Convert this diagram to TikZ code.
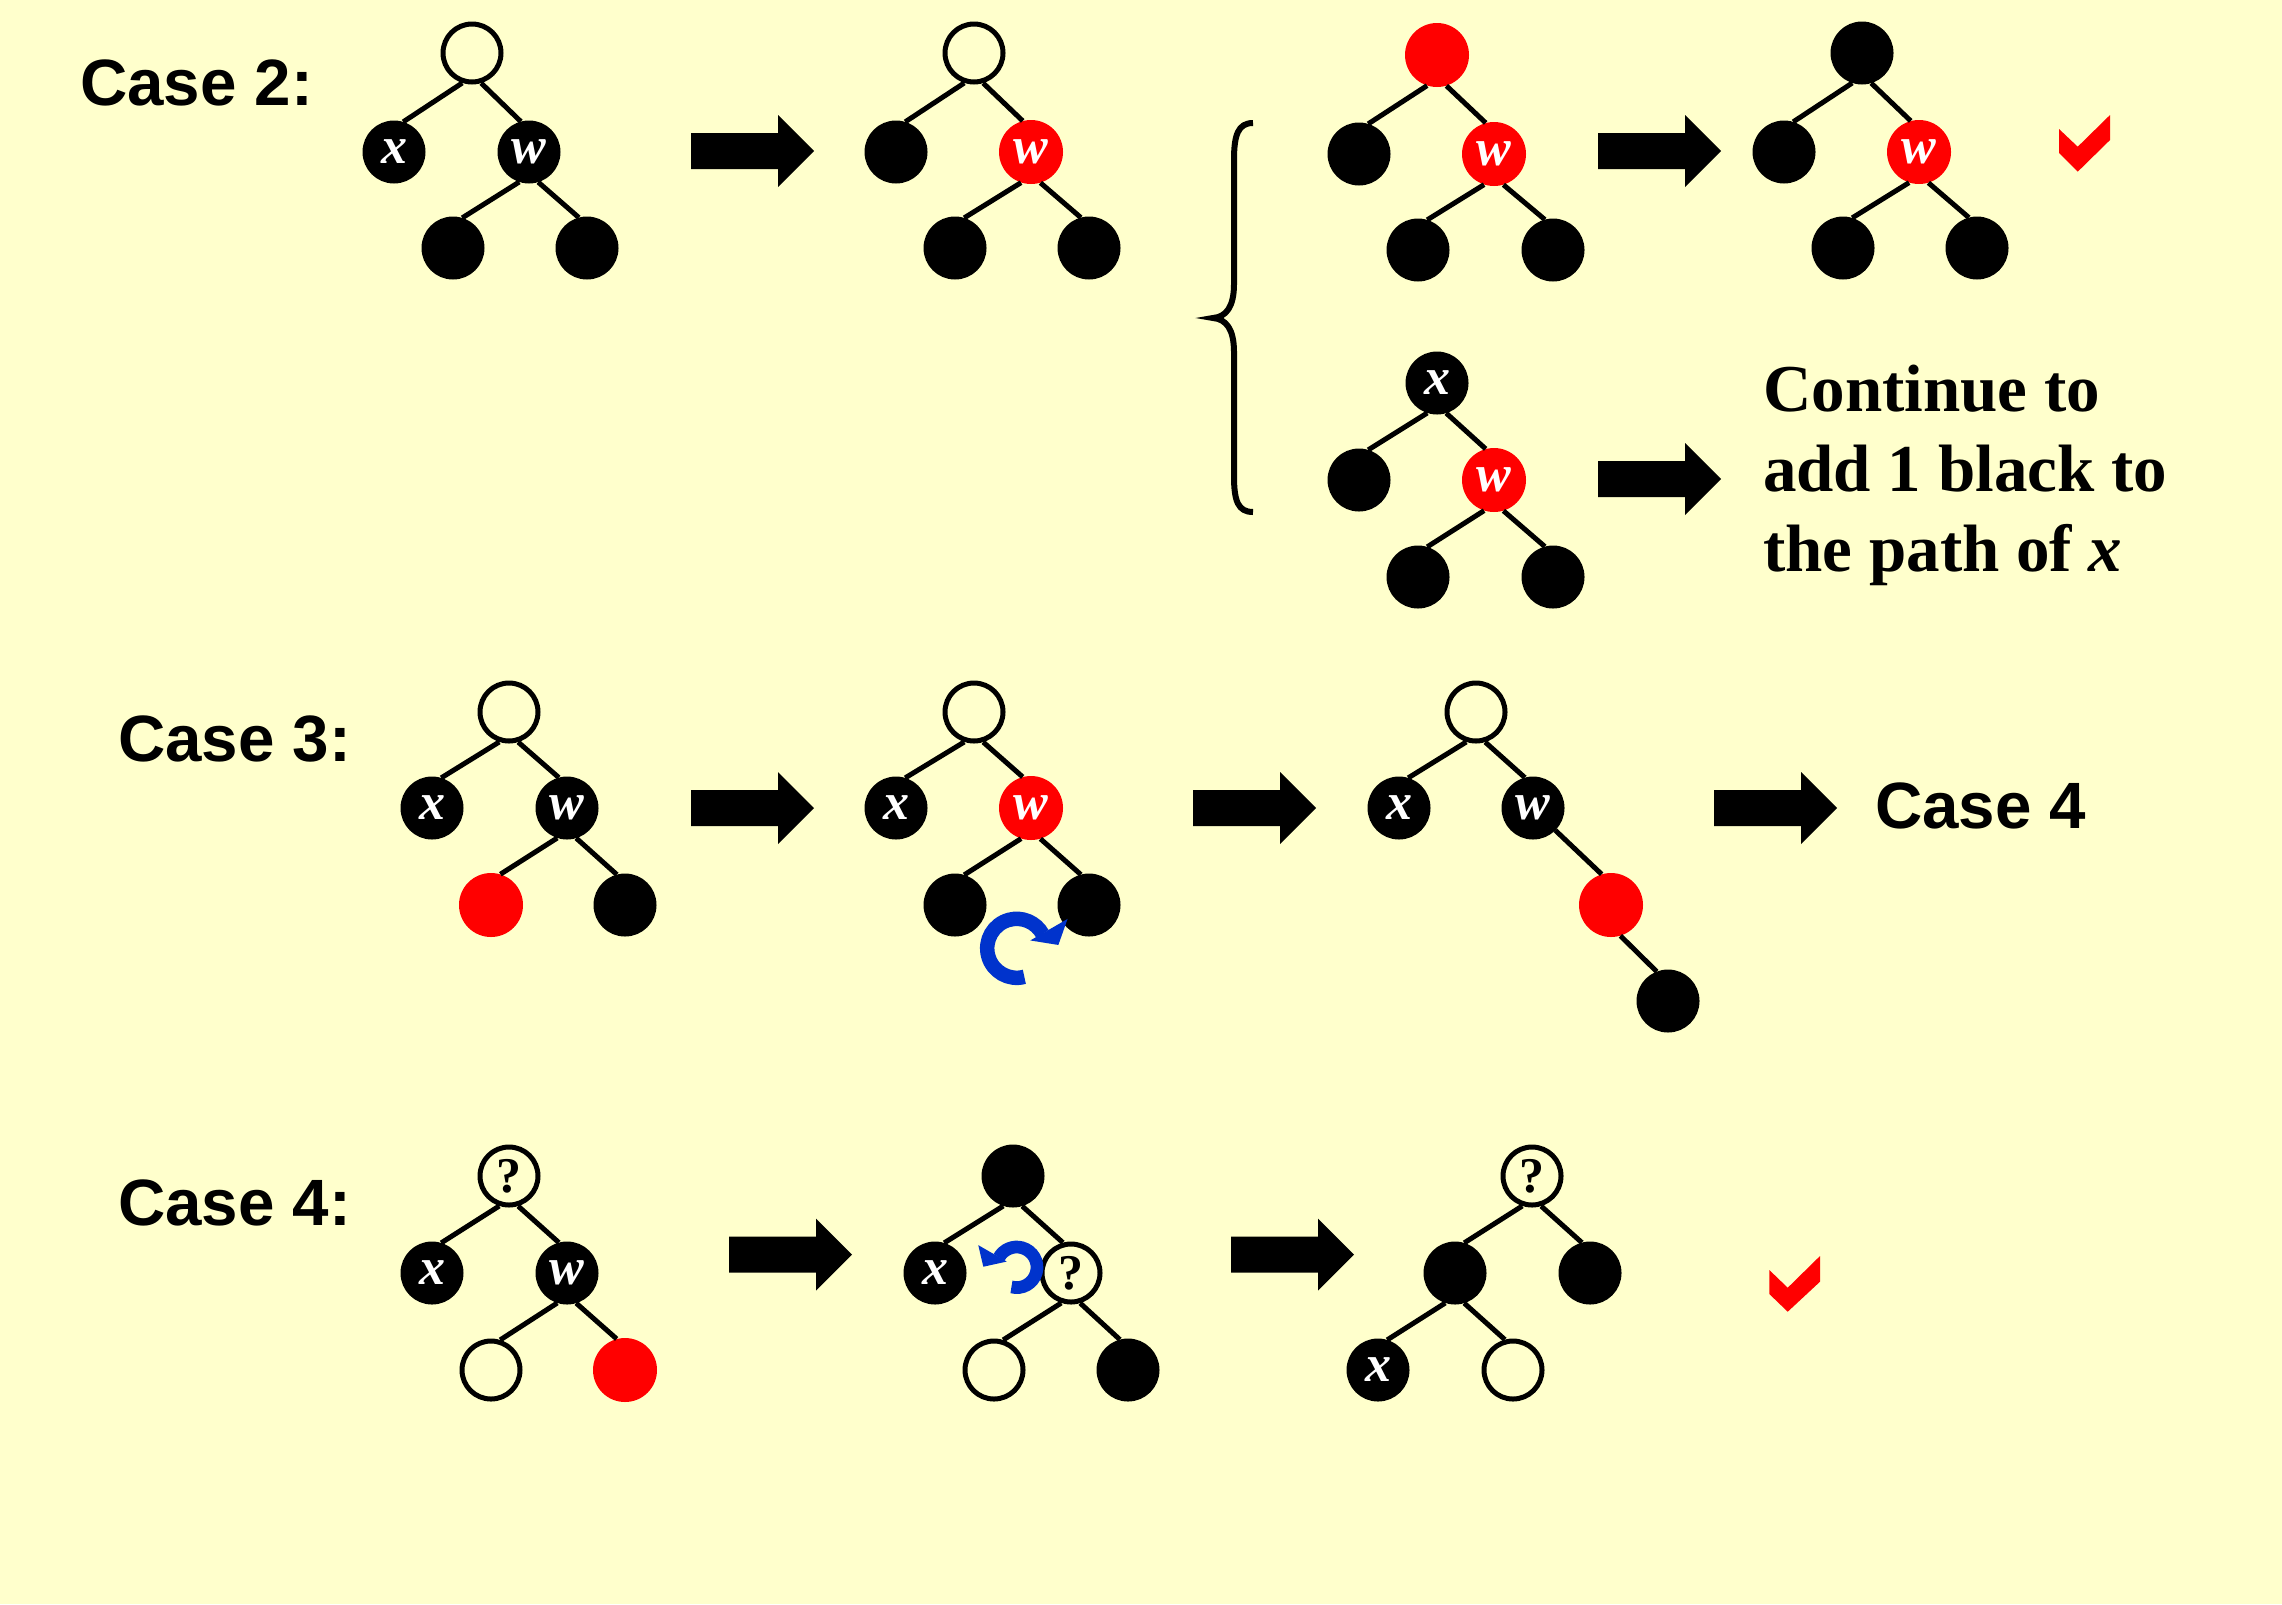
\documentclass[tikz,border=0pt]{standalone}
\usepackage{fontspec}
\setmainfont{Liberation Serif}
\newfontfamily\casefont{Liberation Sans}
\definecolor{bg}{HTML}{FFFFCC}
\definecolor{rotblue}{HTML}{0033CC}
\newcommand\lblfont{\fontsize{52}{52}\selectfont\bfseries\itshape}
\newcommand\qfont{\fontsize{50}{50}\selectfont\bfseries\upshape}
\tikzset{
  nd/.style={circle, minimum size=58pt, inner sep=0pt, line width=5pt, font=\lblfont},
  wn/.style={nd, draw=black, fill=bg},
  bn/.style={nd, draw=black, fill=black, text=white},
  rn/.style={circle, minimum size=64pt, inner sep=0pt, fill=red, text=white, font=\lblfont},
  qn/.style={wn, font=\qfont},
  edge/.style={line width=5pt, black},
  casetxt/.style={font=\casefont\bfseries\fontsize{65.5}{78}\selectfont, anchor=base west, inner sep=0pt},
  bodytxt/.style={font=\bfseries\fontsize{67}{80}\selectfont, anchor=base west, inner sep=0pt},
  blockarrow/.pic={\fill[black] (0,-18) -- (87,-18) -- (87,-36) -- (123,0) -- (87,36) -- (87,18) -- (0,18) -- cycle;},
  rotarrow/.style={rotblue, line width=14.5pt},
}
% left edge and right edge between parent and child
\newcommand\ledge[2]{\draw[edge] (#1.252) -- (#2.73);}
\newcommand\redge[2]{\draw[edge] (#1.287) -- (#2.105);}
\begin{document}
\begin{tikzpicture}[x=1pt,y=-1pt]
\fill[bg] (0,0) rectangle (2282,1604);
\useasboundingbox (0,0) rectangle (2282,1604);

% ---------- labels ----------
\node[casetxt] (c2) at (80,105) {Case 2:};
\node[casetxt] (c3) at (118,761) {Case 3:};
\node[casetxt] (c4) at (118,1225) {Case 4:};
\node[casetxt] (c4b) at (1875,828) {Case 4};
\node[bodytxt] (t1) at (1763,411.7) {Continue to};
\node[bodytxt] (t2) at (1763,491.7) {add 1 black to};
\node[bodytxt] (t3) at (1763,571.7) {the path of \textit{x}};

% ---------- Case 2 : tree A ----------
\node[wn] (A0) at (472,53) {};
\node[bn] (A1) at (394,152) {x};
\node[bn] (A2) at (529,152) {w};
\node[bn] (A3) at (453,248) {};
\node[bn] (A4) at (587,248) {};
\ledge{A0}{A1} \redge{A0}{A2} \ledge{A2}{A3} \redge{A2}{A4}

\pic at (691,151) {blockarrow};

% tree B
\node[wn] (B0) at (974,53) {};
\node[bn] (B1) at (896,152) {};
\node[rn] (B2) at (1031,152) {w};
\node[bn] (B3) at (955,248) {};
\node[bn] (B4) at (1089,248) {};
\ledge{B0}{B1} \redge{B0}{B2} \ledge{B2}{B3} \redge{B2}{B4}

% brace
\draw[line width=6pt] (1253,123) .. controls (1238,123) and (1234,135) .. (1234,160) -- (1234,284)
  .. controls (1234,307) and (1226,317) .. (1213,318)
  .. controls (1226,319) and (1234,329) .. (1234,352) -- (1234,476)
  .. controls (1234,501) and (1238,512) .. (1253,512);

% tree C
\node[rn] (C0) at (1437,55) {};
\node[bn] (C1) at (1359,154) {};
\node[rn] (C2) at (1494,154) {w};
\node[bn] (C3) at (1418,250) {};
\node[bn] (C4) at (1553,250) {};
\ledge{C0}{C1} \redge{C0}{C2} \ledge{C2}{C3} \redge{C2}{C4}

\pic at (1598,151) {blockarrow};

% tree D
\node[bn] (D0) at (1862,53) {};
\node[bn] (D1) at (1784,152) {};
\node[rn] (D2) at (1919,152) {w};
\node[bn] (D3) at (1843,248) {};
\node[bn] (D4) at (1977,248) {};
\ledge{D0}{D1} \redge{D0}{D2} \ledge{D2}{D3} \redge{D2}{D4}

\fill[red] (2059,129) -- (2077.7,146.7) -- (2110,115) -- (2110,140) -- (2077.7,171.7) -- (2059,153) -- cycle;

% tree E
\node[bn] (E0) at (1437,383) {x};
\node[bn] (E1) at (1359,480) {};
\node[rn] (E2) at (1494,480) {w};
\node[bn] (E3) at (1418,577) {};
\node[bn] (E4) at (1553,577) {};
\ledge{E0}{E1} \redge{E0}{E2} \ledge{E2}{E3} \redge{E2}{E4}

\pic at (1598,479) {blockarrow};

% ---------- Case 3 ----------
\node[wn] (F0) at (509,712) {};
\node[bn] (F1) at (432,808) {x};
\node[bn] (F2) at (567,808) {w};
\node[rn] (F3) at (491,905) {};
\node[bn] (F4) at (625,905) {};
\ledge{F0}{F1} \redge{F0}{F2} \ledge{F2}{F3} \redge{F2}{F4}

\pic at (691,808) {blockarrow};

\node[wn] (G0) at (974,712) {};
\node[bn] (G1) at (896,808) {x};
\node[rn] (G2) at (1031,808) {w};
\node[bn] (G3) at (955,905) {};
\node[bn] (G4) at (1089,905) {};
\ledge{G0}{G1} \redge{G0}{G2} \ledge{G2}{G3} \redge{G2}{G4}

\coordinate (r3) at (1016.7,948.3);
\draw[rotarrow] ([shift={(75:29.5)}]r3) arc[start angle=75, end angle=331, radius=29.5];
\fill[rotblue] ([shift={(330:15.7)}]r3) -- ([shift={(330:58.7)}]r3) -- ([shift={(355.4:41.8)}]r3) -- cycle;

\pic at (1193,808) {blockarrow};

\node[wn] (H0) at (1476,712) {};
\node[bn] (H1) at (1399,808) {x};
\node[bn] (H2) at (1533,808) {w};
\node[rn] (H3) at (1611,905) {};
\node[bn] (H4) at (1668,1001) {};
\ledge{H0}{H1} \redge{H0}{H2}
\draw[edge] (H2.315) -- (H3.107);
\draw[edge] (H3.287) -- (H4.111);

\pic at (1714,808) {blockarrow};

% ---------- Case 4 ----------
\node[qn] (I0) at (509,1176) {?};
\node[bn] (I1) at (432,1273) {x};
\node[bn] (I2) at (567,1273) {w};
\node[wn] (I3) at (491,1370) {};
\node[rn] (I4) at (625,1370) {};
\ledge{I0}{I1} \redge{I0}{I2} \ledge{I2}{I3} \redge{I2}{I4}

\pic at (729,1254.5) {blockarrow};

\node[bn] (J0) at (1013,1176) {};
\node[bn] (J1) at (935,1273) {x};
\node[qn] (J2) at (1071,1273) {?};
\node[wn] (J3) at (994,1370) {};
\node[bn] (J4) at (1128,1370) {};
\ledge{J0}{J1} \redge{J0}{J2} \ledge{J2}{J3} \redge{J2}{J4}

\coordinate (r4) at (1016.7,1267.3);
\draw[rotblue, line width=12.7pt] ([shift={(105:20.3)}]r4) arc[start angle=105, end angle=-151, radius=20.3];
\fill[rotblue] ([shift={(-150:11.5)}]r4) -- ([shift={(-150:44.4)}]r4) -- ([shift={(-179:33.4)}]r4) -- cycle;

\pic at (1231,1254.5) {blockarrow};

\node[qn] (K0) at (1532,1176) {?};
\node[bn] (K1) at (1455,1273) {};
\node[bn] (K2) at (1590,1273) {};
\node[bn] (K3) at (1378,1370) {x};
\node[wn] (K4) at (1513,1370) {};
\ledge{K0}{K1} \redge{K0}{K2} \ledge{K1}{K3} \redge{K1}{K4}

\fill[red] (1769.3,1270) -- (1787.7,1287.7) -- (1820,1256) -- (1820,1281.7) -- (1787.7,1311.7) -- (1769.3,1294) -- cycle;
\end{tikzpicture}
\end{document}
